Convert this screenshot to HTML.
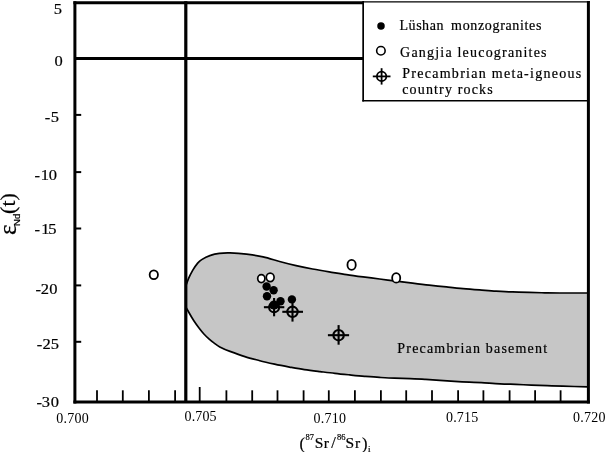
<!DOCTYPE html>
<html><head><meta charset="utf-8"><style>
html,body{margin:0;padding:0;background:#fff;}
body{width:605px;height:452px;overflow:hidden;}
svg{display:block;font-family:"Liberation Serif", serif;filter:grayscale(1) blur(0.35px);}
text{stroke:#000;stroke-width:0.2px;}
</style></head><body>
<svg width="605" height="452" viewBox="0 0 605 452">
<rect width="605" height="452" fill="#fff"/>
<path d="M186.0,285.5 C186.4,284.3 187.5,280.9 188.6,278.3 C189.7,275.7 191.4,272.6 192.8,270.1 C194.2,267.7 195.8,265.4 197.3,263.6 C198.8,261.9 199.5,261.0 201.7,259.6 C203.9,258.2 207.6,256.4 210.5,255.4 C213.4,254.3 216.2,253.7 219.4,253.3 C222.7,252.9 225.5,252.8 230.0,252.9 C234.5,253.0 241.0,253.4 246.5,254.1 C252.0,254.8 257.6,255.7 263.1,256.9 C268.6,258.1 274.1,260.0 279.6,261.5 C285.1,263.0 290.6,264.4 296.1,265.7 C301.6,266.9 307.1,268.0 312.6,269.0 C318.1,270.0 323.6,270.9 329.2,271.8 C334.8,272.7 340.9,273.8 346.5,274.6 C352.1,275.5 357.6,276.2 363.1,276.9 C368.6,277.6 374.1,278.3 379.6,279.0 C385.1,279.7 390.6,280.5 396.1,281.2 C401.6,281.9 407.1,282.5 412.6,283.2 C418.1,283.9 423.6,284.6 429.2,285.2 C434.8,285.8 440.9,286.3 446.5,286.9 C452.1,287.5 457.6,288.1 463.1,288.6 C468.6,289.1 474.1,289.5 479.6,289.9 C485.1,290.3 490.6,290.8 496.1,291.1 C501.6,291.4 507.1,291.7 512.6,291.9 C518.1,292.1 523.9,292.2 529.2,292.4 C534.6,292.5 539.6,292.7 544.7,292.8 C549.8,292.9 552.8,293.0 560.0,293.0 C567.2,293.0 583.3,293.0 588.0,293.0 L588.0,386.8 C583.8,386.7 569.6,386.4 562.8,386.2 C556.0,386.0 552.3,385.9 547.1,385.7 C541.9,385.5 536.6,385.3 531.4,385.1 C526.2,384.9 520.9,384.6 515.7,384.4 C510.5,384.2 505.2,384.1 500.0,383.8 C494.8,383.6 489.5,383.2 484.4,382.9 C479.3,382.6 474.5,382.4 469.5,382.2 C464.5,381.9 459.6,381.7 454.6,381.4 C449.7,381.1 444.8,380.7 439.8,380.4 C434.9,380.1 429.9,379.7 424.9,379.4 C419.9,379.1 415.1,378.9 410.0,378.7 C404.9,378.5 399.5,378.4 394.4,378.2 C389.3,378.0 384.5,377.7 379.5,377.4 C374.5,377.1 369.6,376.7 364.6,376.3 C359.7,375.9 354.8,375.4 349.8,374.9 C344.9,374.4 339.9,373.9 334.9,373.3 C329.9,372.8 325.1,372.2 320.0,371.6 C314.9,371.0 309.5,370.4 304.4,369.6 C299.3,368.9 294.5,368.0 289.5,367.1 C284.5,366.2 279.6,365.3 274.6,364.2 C269.7,363.1 264.8,362.0 259.8,360.7 C254.9,359.4 249.9,358.2 244.9,356.6 C239.9,355.1 234.2,353.0 230.0,351.4 C225.8,349.8 222.5,348.3 219.8,346.9 C217.1,345.5 215.7,344.2 213.9,342.9 C212.1,341.6 210.6,340.4 208.9,338.9 C207.2,337.4 205.6,335.8 203.9,334.0 C202.2,332.2 200.7,330.2 199.0,328.0 C197.3,325.8 195.6,323.4 194.0,321.0 C192.4,318.6 190.8,315.8 189.5,313.5 C188.2,311.2 186.6,308.5 186.0,307.5 Z" fill="#c6c6c6" stroke="none"/>
<path d="M186.0,285.5 C186.4,284.3 187.5,280.9 188.6,278.3 C189.7,275.7 191.4,272.6 192.8,270.1 C194.2,267.7 195.8,265.4 197.3,263.6 C198.8,261.9 199.5,261.0 201.7,259.6 C203.9,258.2 207.6,256.4 210.5,255.4 C213.4,254.3 216.2,253.7 219.4,253.3 C222.7,252.9 225.5,252.8 230.0,252.9 C234.5,253.0 241.0,253.4 246.5,254.1 C252.0,254.8 257.6,255.7 263.1,256.9 C268.6,258.1 274.1,260.0 279.6,261.5 C285.1,263.0 290.6,264.4 296.1,265.7 C301.6,266.9 307.1,268.0 312.6,269.0 C318.1,270.0 323.6,270.9 329.2,271.8 C334.8,272.7 340.9,273.8 346.5,274.6 C352.1,275.5 357.6,276.2 363.1,276.9 C368.6,277.6 374.1,278.3 379.6,279.0 C385.1,279.7 390.6,280.5 396.1,281.2 C401.6,281.9 407.1,282.5 412.6,283.2 C418.1,283.9 423.6,284.6 429.2,285.2 C434.8,285.8 440.9,286.3 446.5,286.9 C452.1,287.5 457.6,288.1 463.1,288.6 C468.6,289.1 474.1,289.5 479.6,289.9 C485.1,290.3 490.6,290.8 496.1,291.1 C501.6,291.4 507.1,291.7 512.6,291.9 C518.1,292.1 523.9,292.2 529.2,292.4 C534.6,292.5 539.6,292.7 544.7,292.8 C549.8,292.9 552.8,293.0 560.0,293.0 C567.2,293.0 583.3,293.0 588.0,293.0" fill="none" stroke="#000" stroke-width="1.7"/>
<path d="M588.0,386.8 C583.8,386.7 569.6,386.4 562.8,386.2 C556.0,386.0 552.3,385.9 547.1,385.7 C541.9,385.5 536.6,385.3 531.4,385.1 C526.2,384.9 520.9,384.6 515.7,384.4 C510.5,384.2 505.2,384.1 500.0,383.8 C494.8,383.6 489.5,383.2 484.4,382.9 C479.3,382.6 474.5,382.4 469.5,382.2 C464.5,381.9 459.6,381.7 454.6,381.4 C449.7,381.1 444.8,380.7 439.8,380.4 C434.9,380.1 429.9,379.7 424.9,379.4 C419.9,379.1 415.1,378.9 410.0,378.7 C404.9,378.5 399.5,378.4 394.4,378.2 C389.3,378.0 384.5,377.7 379.5,377.4 C374.5,377.1 369.6,376.7 364.6,376.3 C359.7,375.9 354.8,375.4 349.8,374.9 C344.9,374.4 339.9,373.9 334.9,373.3 C329.9,372.8 325.1,372.2 320.0,371.6 C314.9,371.0 309.5,370.4 304.4,369.6 C299.3,368.9 294.5,368.0 289.5,367.1 C284.5,366.2 279.6,365.3 274.6,364.2 C269.7,363.1 264.8,362.0 259.8,360.7 C254.9,359.4 249.9,358.2 244.9,356.6 C239.9,355.1 234.2,353.0 230.0,351.4 C225.8,349.8 222.5,348.3 219.8,346.9 C217.1,345.5 215.7,344.2 213.9,342.9 C212.1,341.6 210.6,340.4 208.9,338.9 C207.2,337.4 205.6,335.8 203.9,334.0 C202.2,332.2 200.7,330.2 199.0,328.0 C197.3,325.8 195.6,323.4 194.0,321.0 C192.4,318.6 190.8,315.8 189.5,313.5 C188.2,311.2 186.6,308.5 186.0,307.5" fill="none" stroke="#000" stroke-width="1.7"/>
<!-- frame -->
<line x1="73.4" y1="2.75" x2="363.2" y2="2.75" stroke="#000" stroke-width="3"/>
<line x1="363" y1="1.9" x2="589.9" y2="1.9" stroke="#000" stroke-width="1.3"/>
<line x1="74.9" y1="1.3" x2="74.9" y2="403.4" stroke="#000" stroke-width="3"/>
<line x1="588.4" y1="1" x2="588.4" y2="403.4" stroke="#000" stroke-width="3"/>
<line x1="73.4" y1="401.9" x2="589.9" y2="401.9" stroke="#000" stroke-width="3"/>
<line x1="75" y1="58.4" x2="363.2" y2="58.4" stroke="#000" stroke-width="3"/>
<line x1="185.8" y1="1.3" x2="185.8" y2="401" stroke="#000" stroke-width="3.2"/>
<line x1="363.15" y1="1" x2="363.15" y2="101.6" stroke="#000" stroke-width="1.7"/>
<line x1="362.3" y1="100.8" x2="588" y2="100.8" stroke="#000" stroke-width="1.6"/>
<line x1="97.0" y1="390.3" x2="97.0" y2="401" stroke="#000" stroke-width="1.8"/><line x1="122.8" y1="390.3" x2="122.8" y2="401" stroke="#000" stroke-width="1.8"/><line x1="148.9" y1="390.3" x2="148.9" y2="401" stroke="#000" stroke-width="1.8"/><line x1="175.1" y1="390.3" x2="175.1" y2="401" stroke="#000" stroke-width="1.8"/><line x1="199.7" y1="387.0" x2="199.7" y2="401" stroke="#000" stroke-width="1.8"/><line x1="226.4" y1="390.3" x2="226.4" y2="401" stroke="#000" stroke-width="1.8"/><line x1="252.2" y1="390.3" x2="252.2" y2="401" stroke="#000" stroke-width="1.8"/><line x1="277.5" y1="390.3" x2="277.5" y2="401" stroke="#000" stroke-width="1.8"/><line x1="303.6" y1="390.3" x2="303.6" y2="401" stroke="#000" stroke-width="1.8"/><line x1="328.8" y1="390.3" x2="328.8" y2="401" stroke="#000" stroke-width="1.8"/><line x1="354.9" y1="390.3" x2="354.9" y2="401" stroke="#000" stroke-width="1.8"/><line x1="380.9" y1="390.3" x2="380.9" y2="401" stroke="#000" stroke-width="1.8"/><line x1="406.2" y1="390.3" x2="406.2" y2="401" stroke="#000" stroke-width="1.8"/><line x1="432.0" y1="390.3" x2="432.0" y2="401" stroke="#000" stroke-width="1.8"/><line x1="458.1" y1="390.3" x2="458.1" y2="401" stroke="#000" stroke-width="1.8"/><line x1="483.4" y1="390.3" x2="483.4" y2="401" stroke="#000" stroke-width="1.8"/><line x1="509.6" y1="390.3" x2="509.6" y2="401" stroke="#000" stroke-width="1.8"/><line x1="535.1" y1="390.3" x2="535.1" y2="401" stroke="#000" stroke-width="1.8"/><line x1="560.6" y1="390.3" x2="560.6" y2="401" stroke="#000" stroke-width="1.8"/><line x1="75" y1="114.9" x2="81.2" y2="114.9" stroke="#000" stroke-width="2"/><line x1="75" y1="172.1" x2="81.2" y2="172.1" stroke="#000" stroke-width="2"/><line x1="75" y1="228.5" x2="81.2" y2="228.5" stroke="#000" stroke-width="2"/><line x1="75" y1="285.4" x2="81.2" y2="285.4" stroke="#000" stroke-width="2"/><line x1="75" y1="341.8" x2="81.2" y2="341.8" stroke="#000" stroke-width="2"/>
<ellipse cx="153.8" cy="274.7" rx="4.15" ry="4.40" fill="#fff" stroke="#000" stroke-width="1.8"/><ellipse cx="351.6" cy="264.9" rx="4.15" ry="4.95" fill="#fff" stroke="#000" stroke-width="1.8"/><ellipse cx="396.2" cy="277.9" rx="4.05" ry="4.80" fill="#fff" stroke="#000" stroke-width="1.8"/><ellipse cx="261.3" cy="278.6" rx="3.60" ry="3.95" fill="#fff" stroke="#000" stroke-width="1.7"/><ellipse cx="270.2" cy="277.3" rx="3.90" ry="4.25" fill="#fff" stroke="#000" stroke-width="1.7"/><circle cx="266.6" cy="286.5" r="4.2" fill="#000"/><circle cx="273.6" cy="290.2" r="4.2" fill="#000"/><circle cx="267.0" cy="296.2" r="4.2" fill="#000"/><circle cx="280.5" cy="301.3" r="4.2" fill="#000"/><circle cx="274.0" cy="305.0" r="4.6" fill="#000"/><circle cx="291.9" cy="299.4" r="4.2" fill="#000"/><circle cx="274.1" cy="307.2" r="5.0" fill="none" stroke="#000" stroke-width="2.1"/><line x1="263.9" y1="307.2" x2="284.3" y2="307.2" stroke="#000" stroke-width="2.1"/><line x1="274.1" y1="298.0" x2="274.1" y2="316.3" stroke="#000" stroke-width="2.1"/><circle cx="292.5" cy="311.8" r="5.2" fill="none" stroke="#000" stroke-width="2.1"/><line x1="282.3" y1="311.8" x2="303.0" y2="311.8" stroke="#000" stroke-width="2.1"/><line x1="292.5" y1="302.8" x2="292.5" y2="321.6" stroke="#000" stroke-width="2.1"/><circle cx="338.6" cy="335.2" r="5.2" fill="none" stroke="#000" stroke-width="2.1"/><line x1="327.9" y1="335.2" x2="349.1" y2="335.2" stroke="#000" stroke-width="2.1"/><line x1="338.6" y1="325.1" x2="338.6" y2="344.7" stroke="#000" stroke-width="2.1"/>
<text transform="translate(53.84,13.60) scale(1.130,1)" font-size="14.6" letter-spacing="0.00">5</text><text transform="translate(54.47,66.20) scale(1.130,1)" font-size="14.6" letter-spacing="0.00">0</text><text transform="translate(50.74,121.50) scale(1.130,1)" font-size="14.6" letter-spacing="0.00">5</text><text transform="translate(44.69,121.50) scale(1.130,1)" font-size="14.6" letter-spacing="0.00">-</text><text transform="translate(40.85,179.90) scale(1.130,1)" font-size="14.6" letter-spacing="-0.28">10</text><text transform="translate(34.59,179.90) scale(1.130,1)" font-size="14.6" letter-spacing="0.00">-</text><text transform="translate(41.15,233.90) scale(1.130,1)" font-size="14.6" letter-spacing="-0.98">15</text><text transform="translate(34.59,233.90) scale(1.130,1)" font-size="14.6" letter-spacing="0.00">-</text><text transform="translate(40.87,293.70) scale(1.130,1)" font-size="14.6" letter-spacing="0.23">20</text><text transform="translate(35.59,293.70) scale(1.130,1)" font-size="14.6" letter-spacing="0.00">-</text><text transform="translate(42.57,348.50) scale(1.130,1)" font-size="14.6" letter-spacing="-0.03">25</text><text transform="translate(36.69,348.50) scale(1.130,1)" font-size="14.6" letter-spacing="0.00">-</text><text transform="translate(41.81,406.60) scale(1.130,1)" font-size="14.6" letter-spacing="0.64">30</text><text transform="translate(36.39,406.60) scale(1.130,1)" font-size="14.6" letter-spacing="0.00">-</text><text style="stroke-width:0" x="56.27" y="423.10" font-size="14.0" letter-spacing="0.27">0.700</text><text style="stroke-width:0" x="184.57" y="421.10" font-size="14.0" letter-spacing="0.12">0.705</text><text style="stroke-width:0" x="313.57" y="422.60" font-size="14.0" letter-spacing="0.22">0.710</text><text style="stroke-width:0" x="445.97" y="421.60" font-size="14.0" letter-spacing="0.20">0.715</text><text style="stroke-width:0" x="572.97" y="422.40" font-size="14.0" letter-spacing="0.24">0.720</text>
<!-- legend -->
<circle cx="381.0" cy="26.1" r="3.75" fill="#000"/>
<circle cx="380.9" cy="50.7" r="4.25" fill="#fff" stroke="#000" stroke-width="1.6"/>
<circle cx="381.6" cy="76.4" r="4.7" fill="none" stroke="#000" stroke-width="1.8"/><line x1="372.8" y1="76.4" x2="390.5" y2="76.4" stroke="#000" stroke-width="1.8"/><line x1="381.6" y1="68.2" x2="381.6" y2="84.6" stroke="#000" stroke-width="1.8"/>
<text x="399.5" y="30.2" font-size="14" letter-spacing="0.54">Lüshan</text>
<text x="451.1" y="30.2" font-size="14" letter-spacing="0.66">monzogranites</text>
<text x="400.1" y="56.6" font-size="14" letter-spacing="1.2">Gangjia leucogranites</text>
<text x="402.2" y="78.0" font-size="14" letter-spacing="1.28">Precambrian meta-igneous</text>
<text x="402.2" y="93.6" font-size="14" letter-spacing="1.16">country rocks</text>
<text x="397.3" y="352.9" font-size="14" letter-spacing="1.19">Precambrian basement</text>
<!-- axis titles -->
<text x="299.4" y="448.5" font-size="16.5">(</text>
<text x="305.5" y="440.4" font-size="8.5">8</text>
<text x="309.8" y="440.4" font-size="8.5">7</text>
<text x="314.7" y="447.8" font-size="15.5">S</text>
<text x="323.8" y="447.8" font-size="15.5">r</text>
<text x="331.2" y="448.0" font-size="16.5">/</text>
<text x="337.1" y="440.4" font-size="8.5">8</text>
<text x="341.3" y="440.4" font-size="8.5">6</text>
<text x="345.6" y="447.8" font-size="15.5">S</text>
<text x="355.0" y="447.8" font-size="15.5">r</text>
<text x="362.1" y="448.5" font-size="16.5">)</text>
<text x="368.1" y="452.0" font-size="9.0">i</text>
<g transform="rotate(-90)">
<text x="-235" y="16.2" font-size="25">ε</text>
<text x="-226" y="19.9" font-family="'Liberation Sans', sans-serif" font-size="9.6">Nd</text>
<text x="-213.9" y="14.9" font-size="22">(t)</text>
</g>
</svg>
</body></html>
